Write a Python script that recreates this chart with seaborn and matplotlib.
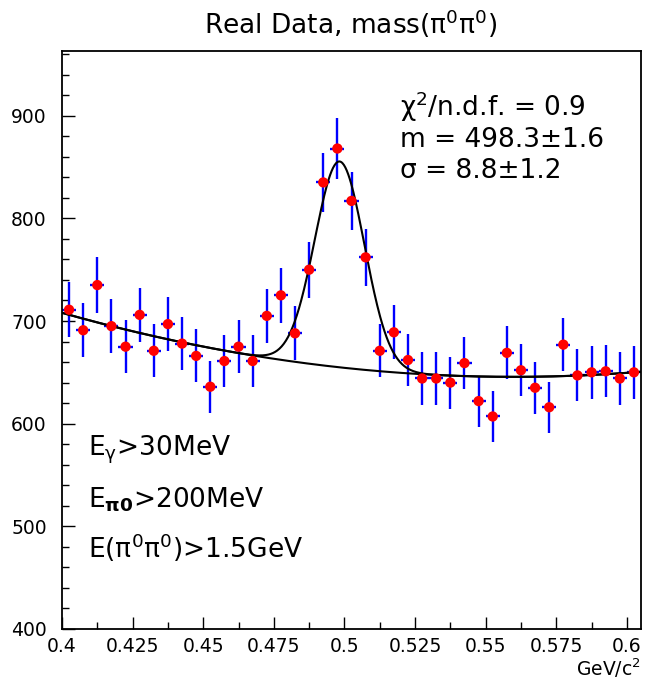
import numpy as np
import matplotlib
matplotlib.use("Agg")
import matplotlib.pyplot as plt
from matplotlib.ticker import MultipleLocator, FixedLocator, FixedFormatter
import seaborn as sns
import pandas as pd

# ---------------- data ----------------
mass = [0.4025, 0.4075, 0.4125, 0.4175, 0.4225, 0.4275, 0.4325, 0.4375, 0.4425, 0.4475,
        0.4525, 0.4575, 0.4625, 0.4675, 0.4725, 0.4775, 0.4825, 0.4875, 0.4925, 0.4975,
        0.5025, 0.5075, 0.5125, 0.5175, 0.5225, 0.5275, 0.5325, 0.5375, 0.5425, 0.5475,
        0.5525, 0.5575, 0.5625, 0.5675, 0.5725, 0.5775, 0.5825, 0.5875, 0.5925, 0.5975,
        0.6025]
counts = [711, 691, 735, 695, 675, 706, 671, 697, 678, 666,
          636, 661, 675, 661, 705, 725, 688, 750, 835, 868,
          817, 762, 671, 689, 662, 644, 644, 640, 659, 622,
          607, 669, 652, 635, 616, 677, 647, 650, 651, 644,
          650]
errors = [26.7, 26.3, 27.1, 26.4, 26.0, 26.6, 25.9, 26.4, 26.0, 25.8,
          25.2, 25.7, 26.0, 25.7, 26.6, 26.9, 26.2, 27.4, 28.9, 29.5,
          28.6, 27.6, 25.9, 26.2, 25.7, 25.4, 25.4, 25.3, 25.7, 24.9,
          24.6, 25.9, 25.5, 25.2, 24.8, 26.0, 25.4, 25.5, 25.5, 25.4,
          25.5]
half_bin = 0.0025

# fit parameters (background quadratic + gaussian peak)
bg_a, bg_x0, bg_c = 2437.0, 0.56, 645.6
peak_amp, peak_mean, peak_sigma = 200.5, 0.4983, 0.0088

xtick_vals = [0.4, 0.425, 0.45, 0.475, 0.5, 0.525, 0.55, 0.575, 0.6]
xtick_labels = ["0.4", "0.425", "0.45", "0.475", "0.5", "0.525", "0.55", "0.575", "0.6"]
ytick_vals = [400, 500, 600, 700, 800, 900]
ytick_labels = ["400", "500", "600", "700", "800", "900"]

title = "Real Data, mass(π$^0$π$^0$)"
fit_lines = ["χ$^2$/n.d.f. = 0.9", "m = 498.3±1.6", "σ = 8.8±1.2"]
cut_lines = ["E$_{γ}$>30MeV", "E$_{\\mathbf{π0}}$>200MeV", "E(π$^0$π$^0$)>1.5GeV"]
xunit = "GeV/c$^2$"

# ---------------- style ----------------
sns.set_style("white")
plt.rcParams['font.family'] = ['DejaVu Sans']
plt.rcParams['mathtext.default'] = 'regular'
plt.rcParams['text.color'] = 'black'
plt.rcParams['xtick.color'] = 'black'
plt.rcParams['ytick.color'] = 'black'
plt.rcParams['axes.labelcolor'] = 'black'

W, H = 649, 683
fig = plt.figure(figsize=(W / 100, H / 100), dpi=100)
ax = fig.add_axes([62 / W, 1 - 629 / H, 579 / W, 578 / H])

df = pd.DataFrame({"mass": mass, "counts": counts, "err": errors})

ax.errorbar(df["mass"], df["counts"], yerr=df["err"], xerr=half_bin, fmt='none',
            ecolor='#0000ff', elinewidth=1.7, capsize=0, zorder=2)

xf = np.linspace(0.4, 0.605, 800)
bg = bg_a * (xf - bg_x0) ** 2 + bg_c
total = bg + peak_amp * np.exp(-0.5 * ((xf - peak_mean) / peak_sigma) ** 2)
sns.lineplot(x=xf, y=bg, ax=ax, color='black', lw=1.5, zorder=3, sort=False)
sns.lineplot(x=xf, y=total, ax=ax, color='black', lw=1.5, zorder=3, sort=False)

sns.scatterplot(data=df, x="mass", y="counts", ax=ax, color='#ff0000', s=55,
                edgecolor='none', linewidth=0, zorder=4)

ax.set_xlim(0.4, 0.605)
ax.set_ylim(400, 963)
ax.xaxis.set_major_locator(FixedLocator(xtick_vals))
ax.xaxis.set_major_formatter(FixedFormatter(xtick_labels))
ax.xaxis.set_minor_locator(MultipleLocator(0.0125))
ax.yaxis.set_major_locator(FixedLocator(ytick_vals))
ax.yaxis.set_major_formatter(FixedFormatter(ytick_labels))
ax.yaxis.set_minor_locator(MultipleLocator(20))
ax.tick_params(which='both', direction='in', bottom=True, left=True,
               top=False, right=False, color='black', width=1.0)
ax.tick_params(which='major', length=9, labelsize=13.5, labelcolor='black')
ax.tick_params(which='minor', length=5)
ax.tick_params(axis='y', which='major', pad=11)
ax.tick_params(axis='x', which='major', pad=6)
ax.set_xlabel("")
ax.set_ylabel("")
for s in ax.spines.values():
    s.set_color('black')
    s.set_linewidth(1.3)

def fx(px):
    return px / W

def fy(py):
    return 1 - py / H

fig.text(fx(351), fy(24), title, ha='center', va='center', fontsize=19, color='black')
for txt, yb in zip(fit_lines, [116, 147, 178]):
    fig.text(fx(400), fy(yb), txt, ha='left', va='baseline', fontsize=19, color='black')
for txt, yb in zip(cut_lines, [455, 507, 558]):
    fig.text(fx(88), fy(yb), txt, ha='left', va='baseline', fontsize=19, color='black')
fig.text(fx(641), fy(676), xunit, ha='right', va='baseline', fontsize=13.5, color='black')

fig.savefig("out.png", dpi=100, facecolor='white')
